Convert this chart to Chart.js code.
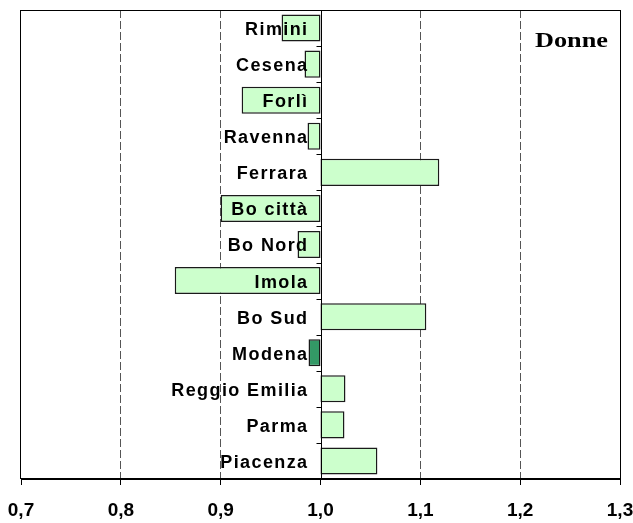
<!DOCTYPE html>
<html><head><meta charset="utf-8">
<script src="https://cdn.jsdelivr.net/npm/chart.js@4/dist/chart.umd.min.js"></script>
<style>html,body{margin:0;padding:0;background:#fff;} canvas{display:block;}</style>
</head><body>
<canvas id="c" width="633" height="523"></canvas>
<script>
const categories = ['Rimini','Cesena','Forlì','Ravenna','Ferrara','Bo città','Bo Nord','Imola','Bo Sud','Modena','Reggio Emilia','Parma','Piacenza'];
const values = [0.961, 0.984, 0.921, 0.987, 1.119, 0.900, 0.977, 0.854, 1.106, 0.988, 1.025, 1.024, 1.057];
const baseline = 1.0;
const xMin = 0.7, xMax = 1.3, xStep = 0.1;
const xTickLabels = ['0,7','0,8','0,9','1,0','1,1','1,2','1,3'];
const highlight = 'Modena';
const panelTitle = 'Donne';

const barColor = '#ccffcc', highlightColor = '#339966';

const overlay = {
  id: 'overlay',
  afterDatasetsDraw(chart) {
    const {ctx, chartArea: a, scales: {x, y}} = chart;
    const ax = Math.round(x.getPixelForValue(baseline)) + 0.5;
    ctx.save();
    ctx.strokeStyle = '#000'; ctx.lineWidth = 1;
    ctx.beginPath();
    ctx.moveTo(ax, a.top); ctx.lineTo(ax, a.bottom);
    for (let i = 0; i <= categories.length; i++) {
      const yy = Math.round(y.getPixelForValue(i - 0.5)) + 0.5;
      ctx.moveTo(ax - 5, yy); ctx.lineTo(ax, yy);
    }
    ctx.stroke();
    const l = Math.round(a.left) - 0.5, t = Math.round(a.top) + 0.5;
    const r = Math.round(a.right) + 0.5, b = Math.round(a.bottom) - 0.5;
    ctx.strokeRect(l, t, r - l, b - t);
    ctx.fillStyle = '#000';
    ctx.font = 'bold 18px "Liberation Sans", Arial, sans-serif';
    ctx.letterSpacing = '1.4px';
    ctx.textAlign = 'right'; ctx.textBaseline = 'middle';
    categories.forEach((c, i) => ctx.fillText(c, ax - 13, y.getPixelForValue(i) + 2));
    ctx.letterSpacing = '0px';
    ctx.font = 'bold 21px "Liberation Serif", "Times New Roman", serif';
    ctx.textAlign = 'left'; ctx.textBaseline = 'alphabetic';
    ctx.translate(535, 47); ctx.scale(1.25, 1);
    ctx.fillText(panelTitle, 0, 0);
    ctx.restore();
  }
};

new Chart(document.getElementById('c'), {
  type: 'bar',
  data: {
    labels: categories,
    datasets: [{
      data: values.map(v => [baseline, v]),
      backgroundColor: categories.map(c => c === highlight ? highlightColor : barColor),
      borderColor: '#1a1a1a',
      borderWidth: 1.5,
      borderSkipped: false,
      barPercentage: 0.75,
      categoryPercentage: 1.0
    }]
  },
  options: {
    indexAxis: 'y',
    responsive: false,
    animation: false,
    devicePixelRatio: 1,
    layout: {padding: {left: 21, right: 13, top: 10, bottom: 0}},
    plugins: {legend: {display: false}, tooltip: {enabled: false}, title: {display: false}},
    scales: {
      x: {
        type: 'linear', min: xMin, max: xMax,
        afterFit(s) { s.height = 44; s.paddingLeft = 0; s.paddingRight = 0; },
        ticks: {
          stepSize: xStep, padding: 14, color: '#000', maxRotation: 0, autoSkip: false,
          font: {family: '"Liberation Sans", Arial, sans-serif', size: 19, weight: 'bold'},
          callback: (v, i) => xTickLabels[i]
        },
        grid: {
          color: c => {
            const v = c.tick ? c.tick.value : 0;
            return (Math.abs(v - xMin) < 1e-6 || Math.abs(v - xMax) < 1e-6 || Math.abs(v - baseline) < 1e-6) ? 'rgba(0,0,0,0)' : '#555';
          },
          tickColor: '#000', tickLength: 6, tickBorderDash: [], lineWidth: 1
        },
        border: {display: true, color: '#000', width: 1, dash: [8, 3]}
      },
      y: {
        type: 'category', display: false
      }
    }
  },
  plugins: [overlay]
});
</script>
</body></html>
